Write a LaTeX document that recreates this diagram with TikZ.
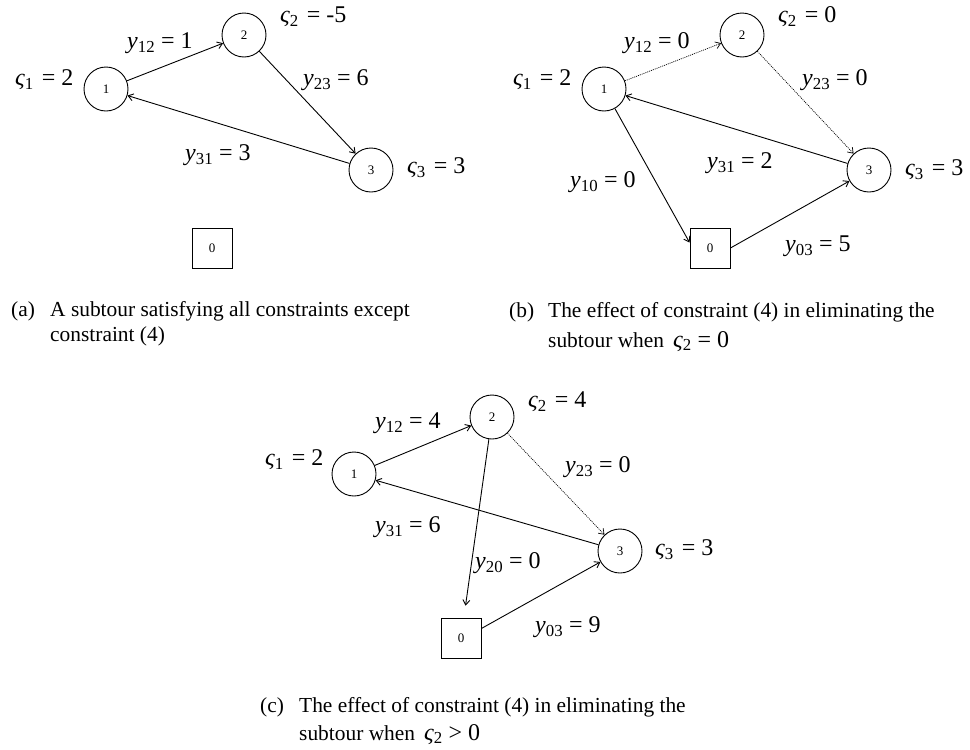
\documentclass[tikz,border=0pt]{standalone}
\usepackage{fontspec}
\setmainfont{Liberation Serif}
\usetikzlibrary{arrows.meta}
\newcommand\vsig[1]{{\itshape ς}\textsubscript{#1}\kern2pt\relax}
\newcommand\yvar[1]{{\itshape y}\textsubscript{#1}}
\begin{document}
\begin{tikzpicture}[x=1pt,y=-1pt,
  vtx/.style={circle,draw,line width=0.9pt,minimum size=44pt,inner sep=0pt,font=\fontsize{13}{13}\selectfont},
  depot/.style={rectangle,draw,line width=0.9pt,minimum size=40pt,inner sep=0pt,font=\fontsize{13}{13}\selectfont},
  lab/.style={anchor=west,inner sep=0pt,font=\fontsize{24}{28}\selectfont},
  arc/.style={line width=0.9pt,-{Straight Barb[length=5pt,width=7pt]}},
  darc/.style={arc,line width=0.7pt,dash pattern=on 1pt off 1pt},
  capt/.style={anchor=base west,inner sep=0pt,font=\fontsize{21.4}{25}\selectfont}
]
\useasboundingbox (0,0) rectangle (970,750);

% ---------- panel (a)
\node[vtx] (a1) at (106,89) {1};
\node[vtx] (a2) at (244,35) {2};
\node[vtx] (a3) at (371,170) {3};
\node[depot] (a0) at (212,248) {0};
\node[lab] (la1) at (15,80) {\vsig{1} = 2};
\node[lab] (la12) at (127,43) {\yvar{12} = 1};
\node[lab] (la2) at (280,17) {\vsig{2} = -5};
\node[lab] (la23) at (303,80) {\yvar{23} = 6};
\node[lab] (la31) at (185,155) {\yvar{31} = 3};
\node[lab] (la3) at (407,168) {\vsig{3} = 3};
\draw[arc] (a1) -- (a2);
\draw[arc] (a2) -- (a3);
\draw[arc] (a3) -- (a1);

% ---------- panel (b)
\node[vtx] (b1) at (604,89) {1};
\node[vtx] (b2) at (742,35) {2};
\node[vtx] (b3) at (869,170) {3};
\node[depot] (b0) at (710,248) {0};
\node[lab] (lb1) at (513,80) {\vsig{1} = 2};
\node[lab] (lb12) at (624,43) {\yvar{12} = 0};
\node[lab] (lb2) at (778,17) {\vsig{2} = 0};
\node[lab] (lb23) at (802,80) {\yvar{23} = 0};
\node[lab] (lb31) at (707,163) {\yvar{31} = 2};
\node[lab] (lb3) at (905,170) {\vsig{3} = 3};
\node[lab] (lb10) at (570,182) {\yvar{10} = 0};
\node[lab] (lb03) at (785,246) {\yvar{03} = 5};
\draw[darc] (b1) -- (b2);
\draw[darc] (b2) -- (b3);
\draw[arc] (b3) -- (b1);
\draw[arc] (b1) -- (b0.165);
\draw[arc] (b0.east) -- (b3);

% ---------- panel (c)
\node[vtx] (c1) at (354,474) {1};
\node[vtx] (c2) at (492,417) {2};
\node[vtx] (c3) at (620,551) {3};
\node[depot] (c0) at (461,638) {0};
\node[lab] (lc1) at (265,460) {\vsig{1} = 2};
\node[lab] (lc12) at (375,423) {\yvar{12} = 4};
\node[lab] (lc2) at (528,402) {\vsig{2} = 4};
\node[lab] (lc23) at (565,467) {\yvar{23} = 0};
\node[lab] (lc31) at (375,527) {\yvar{31} = 6};
\node[lab] (lc3) at (655,550) {\vsig{3} = 3};
\node[lab] (lc20) at (475,563) {\yvar{20} = 0};
\node[lab] (lc03) at (535,627) {\yvar{03} = 9};
\draw[arc] (c1) -- (c2);
\draw[darc] (c2) -- (c3);
\draw[arc] (c3) -- (c1);
\draw[arc,shorten >=12pt] (c2) -- (c0);
\draw[arc] (c0.25) -- (c3);

% ---------- captions
\node[capt] (capa) at (11,316) {(a)};
\node[capt] (capa1) at (50,316) {A subtour satisfying all constraints except};
\node[capt] (capa2) at (50,341) {constraint (4)};
\node[capt] (capb) at (509,317) {(b)};
\node[capt] (capb1) at (548,317) {The effect of constraint (4) in eliminating the};
\node[capt] (capb2) at (548,347) {subtour when \,{\fontsize{24}{24}\selectfont{\itshape ς}\textsubscript{2} = 0}};
\node[capt] (capc) at (260,712) {(c)};
\node[capt] (capc1) at (299,712) {The effect of constraint (4) in eliminating the};
\node[capt] (capc2) at (299,740) {subtour when \,{\fontsize{24}{24}\selectfont{\itshape ς}\textsubscript{2} > 0}};
\end{tikzpicture}
\end{document}
